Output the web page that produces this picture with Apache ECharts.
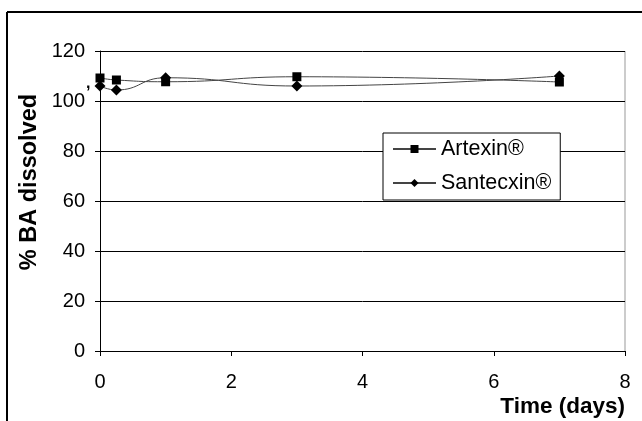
<!DOCTYPE html>
<html><head><meta charset="utf-8">
<script src="https://cdn.jsdelivr.net/npm/echarts@6/dist/echarts.min.js"></script>
<style>html,body{margin:0;padding:0;background:#fff}#c{width:642px;height:421px}</style>
</head><body><div id="c"></div>
<script>
const days = [0, 0.25, 1, 3, 7];
const artexin = [109.2, 108.4, 107.7, 109.7, 107.6];
const santecxin = [106, 104.4, 109.3, 106, 110];
const xTicks = [0, 2, 4, 6, 8];
const yTicks = [0, 20, 40, 60, 80, 100, 120];

const chart = echarts.init(document.getElementById('c'));
const font = 'Liberation Sans, Arial, sans-serif';
chart.setOption({
  animation: false,
  grid: {left: 100, right: 17, top: 51, bottom: 70},
  xAxis: {
    type: 'value', min: xTicks[0], max: xTicks[xTicks.length - 1], interval: 2,
    axisLine: {show: true, lineStyle: {color: '#000', width: 1}},
    axisTick: {show: true, inside: false, length: 5, lineStyle: {color: '#000'}},
    axisLabel: {color: '#000', fontSize: 20, fontFamily: font, margin: 21},
    splitLine: {show: false}
  },
  yAxis: {
    type: 'value', min: yTicks[0], max: yTicks[yTicks.length - 1], interval: 20,
    axisLine: {show: true, lineStyle: {color: '#000', width: 1}},
    axisTick: {show: true, inside: false, length: 5, lineStyle: {color: '#000'}},
    axisLabel: {color: '#000', fontSize: 20, fontFamily: font, margin: 15},
    splitLine: {show: true, lineStyle: {color: '#000', width: 1}}
  },
  legend: {
    show: true, left: 383, top: 133, orient: 'vertical',
    backgroundColor: '#fff', borderColor: '#000', borderWidth: 1,
    padding: [5, 9, 6, 9], itemGap: 12, itemWidth: 43, itemHeight: 10,
    textStyle: {color: '#000', fontSize: 21.5, fontFamily: font},
    data: ['Artexin®', 'Santecxin®']
  },
  series: [
    {name: 'Artexin®', type: 'line', smooth: true, symbol: 'rect', symbolSize: 9,
     itemStyle: {color: '#000'}, lineStyle: {color: '#444', width: 1},
     data: days.map((d, i) => [d, artexin[i]])},
    {name: 'Santecxin®', type: 'line', smooth: true, symbol: 'diamond', symbolSize: 11,
     itemStyle: {color: '#000'}, lineStyle: {color: '#444', width: 1},
     data: days.map((d, i) => [d, santecxin[i]])}
  ],
  graphic: [
    {type: 'line', shape: {x1: 7, y1: 12, x2: 642, y2: 12}, style: {stroke: '#000', lineWidth: 2}},
    {type: 'line', shape: {x1: 7, y1: 12, x2: 7, y2: 421}, style: {stroke: '#000', lineWidth: 2}},
    {type: 'line', shape: {x1: 625, y1: 51, x2: 625, y2: 351}, style: {stroke: '#999', lineWidth: 1}},
    {type: 'text', x: 30, y: 182, rotation: Math.PI / 2,
     style: {text: '% BA dissolved', fill: '#000', font: 'bold 23.5px Liberation Sans, Arial, sans-serif', textAlign: 'center', textVerticalAlign: 'middle'}},
    {type: 'text', x: 86, y: 76, z: 100,
     style: {text: ',', fill: '#000', font: 'bold 16px Liberation Sans, Arial, sans-serif', textAlign: 'left', textVerticalAlign: 'top'}},
    {type: 'text', x: 625, y: 407, style: {text: 'Time (days)', fill: '#000', font: 'bold 22.5px Liberation Sans, Arial, sans-serif', textAlign: 'right', textVerticalAlign: 'middle'}}
  ]
});
</script></body></html>
